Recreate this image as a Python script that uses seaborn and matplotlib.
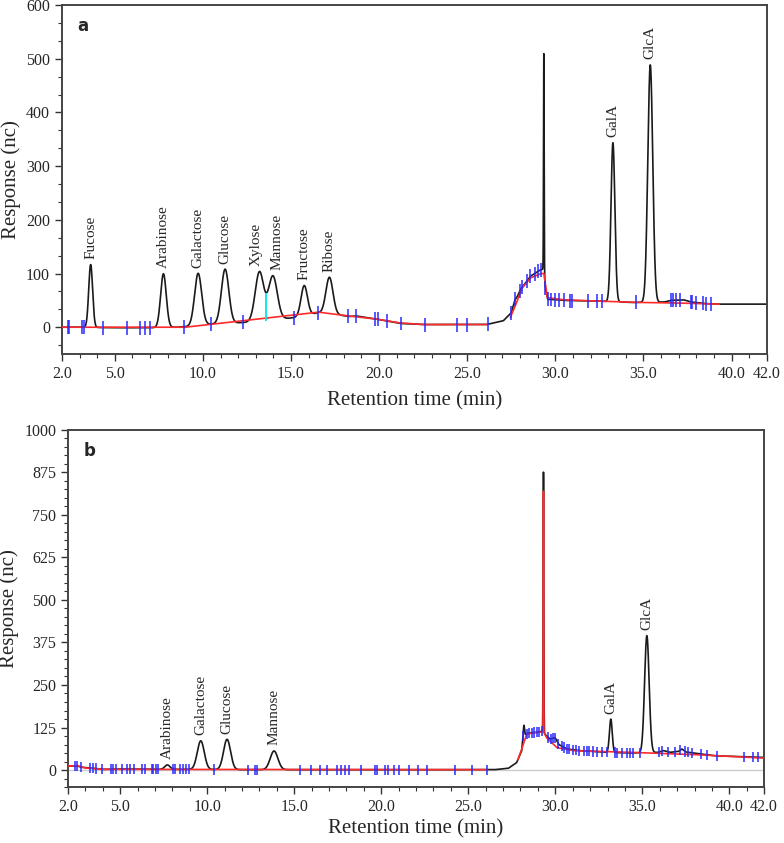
import matplotlib
matplotlib.use("Agg")
import matplotlib.pyplot as plt
import numpy as np
import seaborn as sns
from matplotlib.ticker import AutoMinorLocator, FixedLocator, MultipleLocator

sns.set_theme(style="ticks")
plt.rcParams["font.family"] = ["Liberation Serif", "DejaVu Serif"]

# ---- panel a: sugar standards ----
a_names = ["Fucose", "Arabinose", "Galactose", "Glucose", "Xylose", "Mannose",
           "Fructose", "Ribose", "", "GalA", "GlcA"]
a_rt = [3.63, 7.76, 9.73, 11.26, 13.21, 13.97, 15.75, 17.18, 29.35, 33.27, 35.39]
a_height = [117, 100, 97, 101, 92, 82, 56, 68, 414, 296, 442]
a_sigma = [0.11, 0.16, 0.2, 0.21, 0.24, 0.25, 0.18, 0.2, 0.018, 0.11, 0.14]

a_drift_x = [2.0, 3.0, 5.0, 7.0, 8.5, 9.0, 10.5, 12.4, 13.6, 15.2, 16.56, 17.5, 18.27,
             18.7, 19.88, 21.2, 22.5, 26.1, 27.05, 27.5, 27.7, 27.84, 28.02, 28.59,
             29.16, 29.3, 29.45, 29.57, 30.48, 32.95, 34.44, 36.2, 36.55, 37.3, 37.68,
             38.5, 39.2, 42.0]
a_drift_y = [0, 0, -1, -1, 0, 1, 6, 9, 12, 18, 27, 24, 20, 21, 15, 7, 5, 5, 12, 27, 50,
             57, 70, 95, 107, 108, 70, 52, 50, 48, 46, 47, 50, 51, 47, 44, 43, 43]

a_base_x = [2.0, 9.0, 16.56, 18.27, 19.88, 21.2, 22.5, 26.1, np.nan, 27.45, 27.85,
            28.1, 28.6, 29.2, 29.35, 29.55, 30.5, 33.0, 35.0, 37.0, 39.3]
a_base_y = [0, 0, 28, 21, 15, 8, 5, 5, np.nan, 18, 50, 72, 92, 100, 100, 55, 51, 48,
            46, 45, 43]

a_marks = [2.32, 2.42, 3.12, 3.23, 4.35, 5.68, 6.43, 6.72, 7.0, 8.93, 10.47, 12.3,
           15.17, 16.56, 18.23, 18.7, 19.78, 19.92, 20.45, 21.24, 22.59, 24.43, 25.0,
           26.19, 27.49, 27.74, 27.98, 28.12, 28.4, 28.59, 28.82, 29.03, 29.2, 29.44,
           29.57, 29.76, 30.01, 30.2, 30.48, 30.86, 30.96, 31.85, 32.38, 32.66, 34.6,
           36.55, 36.7, 36.83, 37.07, 37.68, 37.78, 38.0, 38.4, 38.53, 38.86]
a_drop_rt = 13.6

# ---- panel b: sample ----
b_names = ["Arabinose", "Galactose", "Glucose", "Mannose", "", "", "GalA", "GlcA"]
b_rt = [7.71, 9.63, 11.14, 13.84, 28.2, 29.32, 33.19, 35.26]
b_height = [13, 84, 89, 55, 30, 765, 98, 344]
b_sigma = [0.15, 0.2, 0.2, 0.22, 0.03, 0.018, 0.08, 0.13]

b_drift_x = [2.0, 2.5, 2.8, 3.3, 4.0, 5.0, 7.0, 9.0, 12.0, 20.0, 26.5, 27.3, 27.78,
             28.07, 28.15, 28.4, 29.1, 29.25, 29.5, 29.7, 29.99, 30.2, 30.66, 31.4,
             32.96, 34.3, 35.9, 36.21, 36.6, 37.1, 37.27, 37.5, 37.94, 39.09, 41.96, 42.0]
b_drift_y = [12, 12, 8, 6, 2, 3, 2, 2, 1, 1, 1, 5, 22, 57, 100, 108, 112, 115, 100, 91,
             95, 75, 62, 57, 52, 50, 52, 57, 52, 55, 62, 53, 50, 42, 37, 37]

b_base_x = [2.0, 2.6, 3.0, 4.0, 26.1, np.nan, 27.85, 28.07, 28.36, 29.2, 29.29, 29.32,
            29.35, 29.5, 30.09, 31.04, 34.3, 38.13, 42.0]
b_base_y = [12, 12, 6, 2, 1, np.nan, 30, 62, 106, 112, 115, 820, 110, 95, 66, 57, 52,
            45, 35]

b_marks = [2.4, 2.5, 2.75, 3.26, 3.45, 3.59, 3.97, 4.47, 4.6, 4.74, 5.09, 5.37, 5.56,
           5.81, 6.23, 6.43, 6.81, 6.9, 7.06, 7.19, 8.05, 8.15, 8.44, 8.63, 8.76, 8.97,
           10.41, 12.36, 12.75, 12.88, 15.33, 15.95, 16.48, 16.87, 17.44, 17.67, 17.92,
           18.17, 18.84, 19.64, 19.78, 20.22, 20.37, 20.74, 21.02, 21.6, 22.1, 22.6,
           24.24, 25.2, 26.06, 28.17, 28.36, 28.51, 28.65, 28.78, 28.94, 29.09, 29.22,
           29.6, 29.74, 29.85, 29.99, 30.18, 30.37, 30.51, 30.66, 30.81, 31.0, 31.2,
           31.39, 31.66, 31.81, 31.96, 32.19, 32.38, 32.67, 32.96, 33.44, 33.57, 33.82,
           34.11, 34.3, 34.49, 34.84, 35.93, 36.12, 36.5, 36.88, 37.17, 37.46, 37.65,
           37.84, 38.36, 38.74, 39.28, 40.87, 41.35, 41.67]

t = np.linspace(2.0, 42.0, 8001)

# small sideways nudges (points) so that crowded labels do not collide
LABEL_NUDGE = {"Xylose": -2.5, "Mannose": 3.0}


def trace(drift_x, drift_y, rt, height, sigma):
    y = np.interp(t, drift_x, drift_y)
    for c, h, s in zip(rt, height, sigma):
        y = y + h * np.exp(-0.5 * ((t - c) / s) ** 2)
    return y


def draw(ax, names, rt, height, sigma, drift_x, drift_y, base_x, base_y, marks, mark_h,
         ylim, ymajor, yminor, letter, xpad, nudge):
    y = trace(drift_x, drift_y, rt, height, sigma)
    sns.lineplot(x=t, y=y, ax=ax, color="#1a1a1a", lw=1.2, estimator=None, sort=False)
    ax.plot(base_x, base_y, color="#ff2a2a", lw=1.2, zorder=3)
    my = np.interp(marks, drift_x, drift_y)
    ax.vlines(marks, my - mark_h, my + mark_h, color="#2a2aff", lw=1.1, zorder=4)
    for name, c in zip(names, rt):
        if not name:
            continue
        top = np.interp(c, t, y)
        ax.annotate(name, (c, top), xytext=(nudge.get(name, 0), 4),
                    textcoords="offset points", rotation=90, ha="center",
                    va="bottom", fontsize=11)
    ax.set_xlim(2.0, 42.0)
    ax.set_ylim(*ylim)
    ax.xaxis.set_major_locator(FixedLocator([2, 5, 10, 15, 20, 25, 30, 35, 40, 42]))
    ax.xaxis.set_major_formatter(lambda v, p: f"{v:.1f}")
    ax.xaxis.set_minor_locator(MultipleLocator(1))
    ax.yaxis.set_major_locator(MultipleLocator(ymajor))
    ax.yaxis.set_minor_locator(AutoMinorLocator(yminor))
    ax.tick_params(which="major", length=5, width=1, labelsize=11.5, color="#333333")
    ax.tick_params(which="minor", length=3, width=0.8, color="#333333")
    for sp in ax.spines.values():
        sp.set_visible(True)
        sp.set_color("#444444")
        sp.set_linewidth(1.4)
    ax.set_xlabel("Retention time (min)", fontsize=15, labelpad=xpad)
    ax.set_ylabel("Response (nc)", fontsize=15, labelpad=4)
    ax.text(0.022, 0.965, letter, transform=ax.transAxes, fontsize=12, fontweight="bold",
            family="DejaVu Sans", va="top")
    return y


fig = plt.figure(figsize=(7.84, 8.43), dpi=100)
ax_a = fig.add_axes([0.079, 0.580, 0.899, 0.414])
ax_b = fig.add_axes([0.0867, 0.0664, 0.888, 0.4236])

y_a = draw(ax_a, a_names, a_rt, a_height, a_sigma, a_drift_x, a_drift_y, a_base_x,
           a_base_y, a_marks, 13, (-50, 600), 100, 3, "a", 7, LABEL_NUDGE)
ax_a.vlines(a_drop_rt, np.interp(a_drop_rt, a_drift_x, a_drift_y),
            np.interp(a_drop_rt, t, y_a), color="#00e5ee", lw=1.3, zorder=4)

ax_b.axhline(0, color="#cccccc", lw=1, zorder=0)
draw(ax_b, b_names, b_rt, b_height, b_sigma, b_drift_x, b_drift_y, b_base_x, b_base_y,
     b_marks, 15, (-50, 1000), 125, 5, "b", 3, {})

fig.savefig("out.png", dpi=100)
